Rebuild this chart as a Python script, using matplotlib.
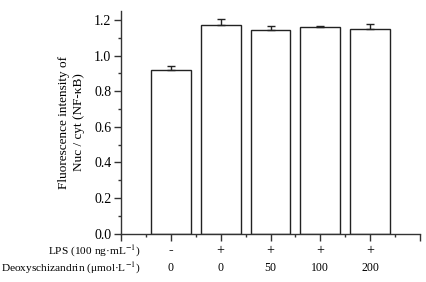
import matplotlib
matplotlib.use("Agg")
import matplotlib.pyplot as plt
from matplotlib.ticker import MultipleLocator, FixedLocator
import matplotlib.transforms as mtransforms

values = [0.921, 1.171, 1.141, 1.162, 1.151]
errors = [0.020, 0.032, 0.023, 0.005, 0.028]
lps_labels = ["-", "+", "+", "+", "+"]
dose_labels = ["0", "0", "50", "100", "200"]
positions = [1, 2, 3, 4, 5]

plt.rcParams['font.family'] = ['Liberation Serif', 'DejaVu Serif']
plt.rcParams['mathtext.fontset'] = 'stix'

W, H = 426, 282
fig = plt.figure(figsize=(W / 100, H / 100), dpi=100)
ax = fig.add_axes([121 / W, 1 - 233.7 / H, (420 - 121) / W, (233.7 - 11) / H])

ax.bar(positions, values, width=0.8, color='white', edgecolor='#222222', linewidth=1.0, zorder=2)
ax.errorbar(positions, values, yerr=[[0] * 5, errors], fmt='none', ecolor='#222222',
            elinewidth=1.0, capsize=3, capthick=1.0, zorder=3)

ax.set_xlim(0, 6)
ax.set_ylim(0, 1.25)
ax.spines['top'].set_visible(False)
ax.spines['right'].set_visible(False)
for s in ['left', 'bottom']:
    ax.spines[s].set_linewidth(1.0)
    ax.spines[s].set_color('#333333')

ax.yaxis.set_minor_locator(MultipleLocator(0.1))
ax.set_yticks([0.0, 0.2, 0.4, 0.6, 0.8, 1.0, 1.2])
ax.set_yticklabels(["0.0", "0.2", "0.4", "0.6", "0.8", "1.0", "1.2"], fontsize=10)
ax.xaxis.set_major_locator(FixedLocator([0, 1, 2, 3, 4, 5, 6]))
ax.xaxis.set_minor_locator(FixedLocator([0.5, 1.5, 2.5, 3.5, 4.5, 5.5]))
ax.set_xticklabels([])
ax.tick_params(axis='both', which='major', direction='out', length=5, width=1.0, color='#333333', pad=2)
ax.tick_params(axis='both', which='minor', direction='out', length=2.5, width=1.0, color='#333333')

fig.text(71.5 / W, 1 - 122 / H, "Fluorescence intensity of\nNuc / cyt (NF-κB)",
         rotation=90, ha='center', va='center', fontsize=9.5, linespacing=1.25)

trans = mtransforms.blended_transform_factory(ax.transData, fig.transFigure)
for x, l, d in zip(positions, lps_labels, dose_labels):
    ax.text(x, 1 - 251 / H, l, transform=trans, ha='center', va='center', fontsize=10,
            fontweight='bold' if l == '-' else 'normal')
    ax.text(x, 1 - 268 / H, d, transform=trans, ha='center', va='center', fontsize=8.5)

fig.text(140 / W, 1 - 251 / H, r"LPS (100 ng·mL$^{-1}$)", ha='right', va='center', fontsize=8.2)
fig.text(140 / W, 1 - 268 / H, r"Deoxyschizandrin (μmol·L$^{-1}$)", ha='right', va='center', fontsize=8.2)

fig.savefig("out.png", dpi=100)
